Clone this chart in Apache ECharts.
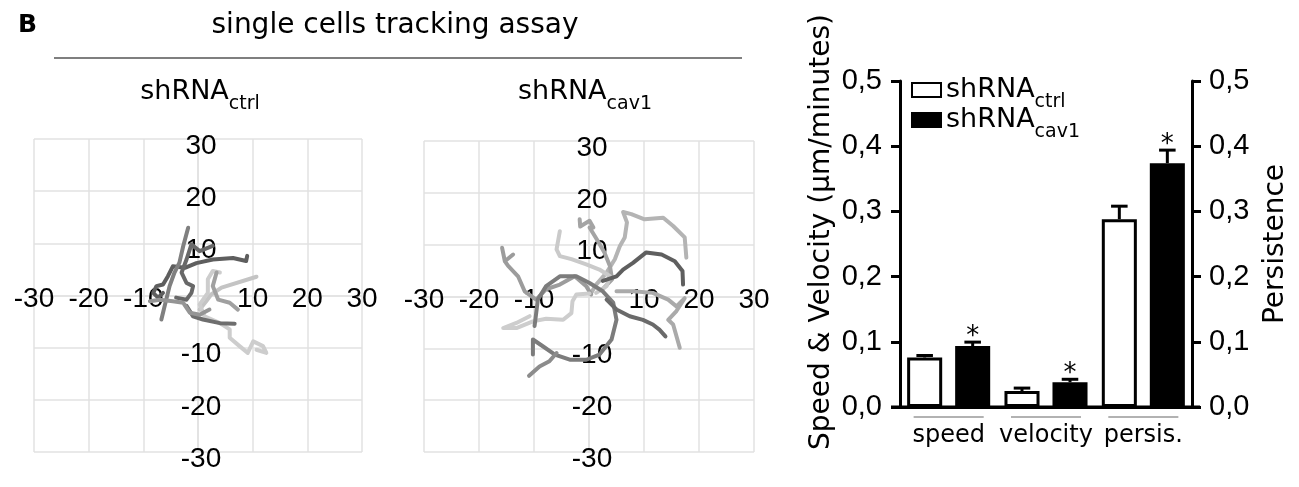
<!DOCTYPE html>
<html lang="en">
<head>
<meta charset="UTF-8">
<title>Single cells tracking assay</title>
<style>
  html, body { margin: 0; padding: 0; background: #fff; }
  #chart { width: 1299px; height: 487px; }
</style>
</head>
<body>
<div id="chart"></div>
<script src="https://cdn.jsdelivr.net/npm/echarts@6/dist/echarts.min.js"></script>
<script>
// ---- tracks (µm) ----
var ctrlTracks = [
  [[9.0,7.6],[8.8,6.6],[6.4,7.2],[2.7,6.9],[-0.3,6.2],[-2.4,5.3],[-4.6,5.6],[-5.5,3.7],[-6.4,2.1],[-7.6,1.8],[-8.2,0.5],[-7.3,-0.4],[-6.4,0.5]],
  [[-1.8,13],[-2.7,9.5],[-3.4,6.3],[-4.3,4.4],[-5.2,1.8],[-6.1,-2],[-6.7,-4.6]],
  [[2.7,9.5],[0.3,8.5],[-1.2,9.8],[-2.1,6.9],[-3,4.4],[-2.1,2.4],[-0.9,1.8],[-1.2,0.5],[-2.1,-0.8],[-4,-0.4]],
  [[10.7,3.6],[4.3,1.5],[2.4,0.2],[1.5,-1.1],[0.3,-2.7]],
  [[4,4.4],[2.7,4.7],[1.8,3.1],[1.8,0.5],[0.3,-1.7],[1.2,-4],[4,-5.3],[5.8,-6.5],[5.8,-8.1],[7.6,-9.7],[9.1,-11],[10.1,-8.8],[11.9,-9.7],[12.5,-11],[10.7,-10.4]],
  [[3.4,4.4],[2.7,1.8],[3.7,-0.8],[5.8,-1.4],[7.3,-2.7]],
  [[-2.1,-2],[-0.9,-4],[0.9,-4.6],[4,-5.3],[6.7,-5.4]],
  [[-8.8,-1.1],[-7,-0.8],[-4.6,-1.1],[-2.7,-1.4],[-1.5,-3.3],[0.3,-3.7],[2.1,-2.7]]
];
var ctrlGrays = ['#5e5e5e', '#808080', '#686868', '#c4c4c4', '#cdcdcd', '#a0a0a0', '#6e6e6e', '#959595'];

var cav1Tracks = [
  [[17.7,7.5],[17.4,11.4],[15.3,13.6],[13.5,15.2],[10.1,14.9],[7.7,15.9],[6.2,16.3],[6.9,14.3],[6.5,11.4],[5.6,9.7],[4.7,7.2],[3.2,4.6],[1.3,2.3],[0.4,0.7]],
  [[-1.7,14.9],[-1.6,13.5],[0.1,14.6],[0.8,13.3],[0.1,13.3],[1.6,10.7],[2.8,8.5],[3.8,5.9],[4.2,3.3],[2.5,1.4]],
  [[-5.3,12.6],[-5.9,9.1],[-5.3,7.8],[-3.2,7.2],[-0.5,6.2],[1.9,5.2],[3.8,3.9],[3.2,2],[1.3,0.7]],
  [[-15.8,9.4],[-15.3,6.8],[-13.8,8.1],[-15.3,6.8],[-14.7,5.9],[-12.9,3.9],[-11.7,1],[-9.6,-0.6],[-7.8,1.4],[-5.3,2.3],[-2.6,3.9],[-0.5,2],[0.4,0.4]],
  [[2.5,3],[5,3.9],[6.2,5.2],[8,6.5],[10.4,8.5],[13.2,8.1],[15.6,6.8],[17,4.9],[17.1,2.3]],
  [[0.1,0.6],[-2.3,0.4],[-3,-0.9],[-3.2,-3.2],[-4.7,-4.5],[-7.8,-4.3],[-10.2,-4.8],[-13.2,-6.1],[-15.6,-6.1],[-13.2,-5.1],[-10.8,-3.8]],
  [[-10.2,-11.2],[-10.2,-8.3],[-8.4,-9.6],[-6.2,-11.2],[-3.5,-12.2],[-0.5,-12.2],[1.9,-11.2],[4.1,-8.3],[5,-4.5],[4.4,-1.2],[2.5,1],[0.1,2.6],[-2.3,3.9],[-5.3,3.9],[-7.8,2],[-9.3,-0.6],[-9.6,-3.2],[-9.9,-5.7]],
  [[-10.9,-15.3],[-9,-13.5],[-7.2,-12.5],[-5.9,-10.9]],
  [[3.2,-0.6],[5,-2.5],[7.4,-3.8],[9.8,-4.5],[11.6,-5.4],[12.8,-6.4],[13.9,-7.7]],
  [[5,1],[8,1],[11.6,0.7],[14.4,-0.6],[15.9,-1.9],[17.4,-0.3],[15.9,-2.8],[14.4,-4.5],[15.3,-5.4],[16.5,-9.9]]
];
var cav1Grays = ['#b4b4b4', '#a4a4a4', '#cacaca', '#9c9c9c', '#5f5f5f', '#cdcdcd', '#7c7c7c', '#8c8c8c', '#6a6a6a', '#aaaaaa'];

// ---- bar chart ----
var groups = ['speed', 'velocity', 'persis.'];
var ctrlMean = [0.076, 0.0245, 0.288];
var ctrlErr = [0.003, 0.0045, 0.02];
var cav1Mean = [0.0935, 0.038, 0.374];
var cav1Err = [0.006, 0.0045, 0.02];
var cav1Signif = [1, 1, 1];

var FONT = 'DejaVu Sans';
var NUM_FONT = 'Liberation Sans';
var BAR_FRAC = 0.36, GAP_FRAC = 0.37;

var roseGrids = [
  { left: 34, top: 139, width: 328, height: 313 },
  { left: 424, top: 141, width: 330, height: 311 }
];

var chart = echarts.init(document.getElementById('chart'));

function trackSeries(tracks, grays, idx) {
  return tracks.map(function (pts, i) {
    return {
      type: 'line', xAxisIndex: idx, yAxisIndex: idx, data: pts,
      symbol: 'none', silent: true, z: 3,
      lineStyle: { color: grays[i], width: 4, cap: 'round', join: 'round' }
    };
  });
}

function noZero(v) { return v === 0 ? '' : String(v); }

// axes of the rose plots cross in the middle of their grid
function roseX(grid) {
  return {
    type: 'value', gridIndex: grid, min: -30, max: 30, interval: 10,
    position: 'bottom', offset: -roseGrids[grid].height / 2,
    axisLine: { onZero: false, lineStyle: { color: '#e2e2e2', width: 1.5 } },
    axisTick: { show: false },
    splitLine: { lineStyle: { color: '#e2e2e2', width: 1.5 } },
    axisLabel: { fontSize: 28, fontFamily: NUM_FONT, color: '#000', margin: -10, formatter: noZero }
  };
}
function roseY(grid) {
  return {
    type: 'value', gridIndex: grid, min: -30, max: 30, interval: 10,
    position: 'left', offset: -roseGrids[grid].width / 2,
    axisLine: { onZero: false, lineStyle: { color: '#e2e2e2', width: 1.5 } },
    axisTick: { show: false },
    splitLine: { lineStyle: { color: '#e2e2e2', width: 1.5 } },
    axisLabel: {
      fontSize: 28, fontFamily: NUM_FONT, color: '#000', margin: -3, align: 'center',
      verticalAlign: 'top', lineHeight: 14, formatter: noZero
    }
  };
}

function errorBars(side) {
  return function (params, api) {
    var cat = api.value(0), mean = api.value(1), err = api.value(2);
    var band = api.size([1, 0])[0];
    var shift = side * band * (BAR_FRAC + BAR_FRAC * GAP_FRAC) / 2;
    var base = api.coord([cat, mean]);
    var top = api.coord([cat, mean + err]);
    var x = base[0] + shift;
    var cap = band * 0.085;
    var kids = [
      { type: 'line', shape: { x1: x, y1: base[1], x2: x, y2: top[1] }, style: { stroke: '#000', lineWidth: 3 } },
      { type: 'line', shape: { x1: x - cap, y1: top[1], x2: x + cap, y2: top[1] }, style: { stroke: '#000', lineWidth: 3 } }
    ];
    if (api.value(3)) {
      kids.push({
        type: 'text', x: x, y: top[1] + 8,
        style: { text: '*', fontSize: 26, fontFamily: FONT, fill: '#000', align: 'center', verticalAlign: 'bottom' }
      });
    }
    return { type: 'group', children: kids };
  };
}

var subRich = {
  a: { fontSize: 27, fontFamily: FONT, color: '#000', lineHeight: 30 },
  b: { fontSize: 19, fontFamily: FONT, color: '#000', lineHeight: 19, padding: [25, 0, 0, 0] }
};

function panelTitle(x, sub) {
  return {
    type: 'text', x: x, y: 92,
    style: { text: '{a|shRNA}{b|' + sub + '}', rich: subRich, align: 'center', verticalAlign: 'middle', fill: '#000' }
  };
}

function tickComma(v) { return v.toFixed(1).replace('.', ','); }

var option = {
  animation: false,
  textStyle: { fontFamily: FONT },
  grid: [
    roseGrids[0],
    roseGrids[1],
    { left: 900, top: 81, width: 292, height: 326 }
  ],
  xAxis: [
    roseX(0),
    roseX(1),
    {
      type: 'category', gridIndex: 2, data: groups,
      axisLine: { lineStyle: { color: '#000', width: 3 } },
      axisTick: { show: false },
      axisLabel: { fontSize: 24, color: '#000', margin: 17, interval: 0 }
    }
  ],
  yAxis: [
    roseY(0),
    roseY(1),
    {
      type: 'value', gridIndex: 2, min: 0, max: 0.5, interval: 0.1, position: 'left',
      name: 'Speed & Velocity (µm/minutes)', nameLocation: 'middle', nameGap: 64,
      nameTextStyle: { fontSize: 28, color: '#000', padding: [0, 0, 0, 24] },
      axisLine: { show: true, lineStyle: { color: '#000', width: 3 } },
      axisTick: { show: true, length: 9, lineStyle: { color: '#000', width: 3 } },
      splitLine: { show: false },
      axisLabel: { fontSize: 29, fontFamily: NUM_FONT, color: '#000', margin: 18, formatter: tickComma }
    },
    {
      type: 'value', gridIndex: 2, min: 0, max: 0.5, interval: 0.1, position: 'right',
      name: 'Persistence', nameLocation: 'middle', nameGap: 70,
      nameTextStyle: { fontSize: 28, color: '#000' },
      axisLine: { show: true, lineStyle: { color: '#000', width: 3 } },
      axisTick: { show: true, length: 9, lineStyle: { color: '#000', width: 3 } },
      splitLine: { show: false },
      axisLabel: { fontSize: 29, fontFamily: NUM_FONT, color: '#000', margin: 17, formatter: tickComma }
    }
  ],
  legend: {
    orient: 'vertical', left: 911, top: 68, padding: 0,
    itemWidth: 29, itemHeight: 14, itemGap: -14,
    icon: 'rect', selectedMode: false,
    data: ['shRNActrl', 'shRNAcav1'],
    formatter: function (name) { return '{a|shRNA}{b|' + name.slice(5) + '}'; },
    textStyle: { rich: subRich }
  },
  graphic: [
    { type: 'text', x: 18, y: 13, style: { text: 'B', fontSize: 25, fontWeight: 'bold', fontFamily: FONT, fill: '#000' } },
    { type: 'text', x: 395, y: 12, style: { text: 'single cells tracking assay', fontSize: 28, fontFamily: FONT, fill: '#000', align: 'center' } },
    { type: 'line', shape: { x1: 54, y1: 58, x2: 742, y2: 58 }, style: { stroke: '#555', lineWidth: 1.5 } },
    panelTitle(200, 'ctrl'),
    panelTitle(585, 'cav1')
  ],
  series: [].concat(
    trackSeries(ctrlTracks, ctrlGrays, 0),
    trackSeries(cav1Tracks, cav1Grays, 1),
    [
      {
        name: 'shRNActrl', type: 'bar', xAxisIndex: 2, yAxisIndex: 2, data: ctrlMean,
        barWidth: (BAR_FRAC * 100) + '%', barGap: (GAP_FRAC * 100) + '%',
        itemStyle: { color: '#fff', borderColor: '#000', borderWidth: 3 }, z: 2
      },
      {
        name: 'shRNAcav1', type: 'bar', xAxisIndex: 2, yAxisIndex: 2, data: cav1Mean,
        barWidth: (BAR_FRAC * 100) + '%', barGap: (GAP_FRAC * 100) + '%',
        itemStyle: { color: '#000', borderColor: '#000', borderWidth: 3 }, z: 2
      },
      {
        type: 'custom', xAxisIndex: 2, yAxisIndex: 2, z: 1, silent: true,
        renderItem: errorBars(-1), encode: { x: 0, y: 1 },
        data: groups.map(function (g, i) { return [i, ctrlMean[i], ctrlErr[i], 0]; })
      },
      {
        type: 'custom', xAxisIndex: 2, yAxisIndex: 2, z: 1, silent: true,
        renderItem: errorBars(1), encode: { x: 0, y: 1 },
        data: groups.map(function (g, i) { return [i, cav1Mean[i], cav1Err[i], cav1Signif[i]]; })
      }
    ]
  )
};

chart.setOption(option);

// thin gray rules above the group labels and the baseline running past both
// y axes, placed from the category scale
var base = chart.convertToPixel({ yAxisIndex: 2 }, 0);
var band = chart.convertToPixel({ xAxisIndex: 2 }, 1) - chart.convertToPixel({ xAxisIndex: 2 }, 0);
var extras = groups.map(function (g, i) {
  var cx = chart.convertToPixel({ xAxisIndex: 2 }, i);
  return {
    id: 'rule' + i, type: 'line',
    shape: { x1: cx - band * 0.36, y1: base + 10, x2: cx + band * 0.36, y2: base + 10 },
    style: { stroke: '#666', lineWidth: 1.2 }
  };
});
var firstX = chart.convertToPixel({ xAxisIndex: 2 }, 0) - band / 2;
var lastX = chart.convertToPixel({ xAxisIndex: 2 }, groups.length - 1) + band / 2;
extras.push({
  id: 'baseline', type: 'line', z: 10,
  shape: { x1: firstX - 9, y1: base, x2: lastX + 8, y2: base },
  style: { stroke: '#000', lineWidth: 3 }
});
chart.setOption({ graphic: option.graphic.concat(extras) });
</script>
</body>
</html>
